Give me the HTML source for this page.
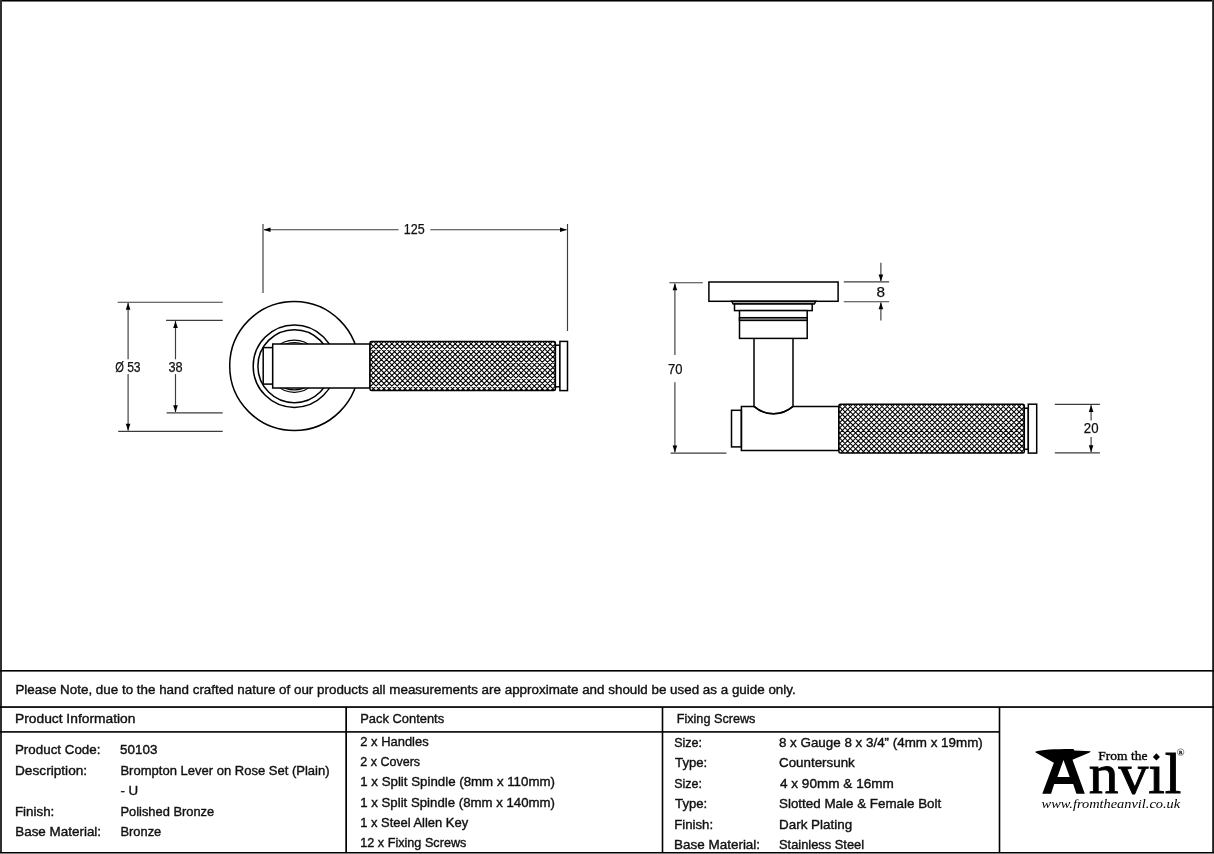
<!DOCTYPE html>
<html><head><meta charset="utf-8"><style>
html,body{margin:0;padding:0;background:#fff;width:1214px;height:854px;overflow:hidden}
svg{display:block}
text{font-family:"Liberation Sans",sans-serif;fill:#111;stroke:#111;stroke-width:0.4px}
svg{will-change:transform}
</style></head><body>
<svg width="1214" height="854" viewBox="0 0 1214 854">
<rect width="1214" height="854" fill="#fff"/>
<g stroke="#000" stroke-width="1.5" fill="none">
<circle cx="294.2" cy="366" r="64.5" fill="#fff"/>
<circle cx="294.4" cy="366.2" r="41.2"/>
<circle cx="294.4" cy="366.2" r="36.5"/>
<circle cx="294.3" cy="366.2" r="26.1" stroke-width="1.2"/>
<circle cx="294.3" cy="366.2" r="23.7" stroke-width="1.2"/>
<rect x="263.2" y="347.6" width="9.5" height="36.5" fill="#fff"/>
<rect x="272.7" y="344.0" width="97.3" height="44.0" fill="#fff"/>
<clipPath id="k1"><rect x="370" y="341.4" width="185.4" height="49.2" rx="1.5"/></clipPath>
<rect x="370" y="341.4" width="185.4" height="49.2" rx="1.5" fill="#fff" stroke="none"/>
<path clip-path="url(#k1)" d="M362.61,341.40L313.41,390.60M367.88,341.40L318.68,390.60M373.16,341.40L323.96,390.60M378.44,341.40L329.24,390.60M383.72,341.40L334.52,390.60M388.99,341.40L339.79,390.60M394.27,341.40L345.07,390.60M399.55,341.40L350.35,390.60M404.82,341.40L355.62,390.60M410.10,341.40L360.90,390.60M415.38,341.40L366.18,390.60M420.65,341.40L371.45,390.60M425.93,341.40L376.73,390.60M431.21,341.40L382.01,390.60M436.49,341.40L387.29,390.60M441.76,341.40L392.56,390.60M447.04,341.40L397.84,390.60M452.32,341.40L403.12,390.60M457.59,341.40L408.39,390.60M462.87,341.40L413.67,390.60M468.15,341.40L418.95,390.60M473.42,341.40L424.22,390.60M478.70,341.40L429.50,390.60M483.98,341.40L434.78,390.60M489.26,341.40L440.06,390.60M494.53,341.40L445.33,390.60M499.81,341.40L450.61,390.60M505.09,341.40L455.89,390.60M510.36,341.40L461.16,390.60M515.64,341.40L466.44,390.60M520.92,341.40L471.72,390.60M526.19,341.40L476.99,390.60M531.47,341.40L482.27,390.60M536.75,341.40L487.55,390.60M542.03,341.40L492.83,390.60M547.30,341.40L498.10,390.60M552.58,341.40L503.38,390.60M557.86,341.40L508.66,390.60M563.13,341.40L513.93,390.60M568.41,341.40L519.21,390.60M573.69,341.40L524.49,390.60M578.96,341.40L529.76,390.60M584.24,341.40L535.04,390.60M589.52,341.40L540.32,390.60M594.80,341.40L545.60,390.60M600.07,341.40L550.87,390.60M605.35,341.40L556.15,390.60M610.63,341.40L561.43,390.60M310.31,341.40L359.51,390.60M315.59,341.40L364.79,390.60M320.87,341.40L370.07,390.60M326.15,341.40L375.35,390.60M331.42,341.40L380.62,390.60M336.70,341.40L385.90,390.60M341.98,341.40L391.18,390.60M347.25,341.40L396.45,390.60M352.53,341.40L401.73,390.60M357.81,341.40L407.01,390.60M363.08,341.40L412.28,390.60M368.36,341.40L417.56,390.60M373.64,341.40L422.84,390.60M378.92,341.40L428.12,390.60M384.19,341.40L433.39,390.60M389.47,341.40L438.67,390.60M394.75,341.40L443.95,390.60M400.02,341.40L449.22,390.60M405.30,341.40L454.50,390.60M410.58,341.40L459.78,390.60M415.85,341.40L465.05,390.60M421.13,341.40L470.33,390.60M426.41,341.40L475.61,390.60M431.69,341.40L480.89,390.60M436.96,341.40L486.16,390.60M442.24,341.40L491.44,390.60M447.52,341.40L496.72,390.60M452.79,341.40L501.99,390.60M458.07,341.40L507.27,390.60M463.35,341.40L512.55,390.60M468.62,341.40L517.82,390.60M473.90,341.40L523.10,390.60M479.18,341.40L528.38,390.60M484.46,341.40L533.66,390.60M489.73,341.40L538.93,390.60M495.01,341.40L544.21,390.60M500.29,341.40L549.49,390.60M505.56,341.40L554.76,390.60M510.84,341.40L560.04,390.60M516.12,341.40L565.32,390.60M521.39,341.40L570.59,390.60M526.67,341.40L575.87,390.60M531.95,341.40L581.15,390.60M537.23,341.40L586.43,390.60M542.50,341.40L591.70,390.60M547.78,341.40L596.98,390.60M553.06,341.40L602.26,390.60M558.33,341.40L607.53,390.60M563.61,341.40L612.81,390.60" stroke="#000" stroke-width="1.1" fill="none"/>
<rect x="370" y="341.4" width="185.4" height="49.2" rx="1.5" fill="none"/>
<rect x="555.4" y="345.2" width="4.5" height="41.6" fill="#fff"/>
<rect x="559.9" y="341.4" width="7.6" height="49.2" fill="#fff"/>
<path d="M754,330 L754,406.4 A29.7,29.7 0 0 0 793,406.4 L793,330" fill="#fff"/>
<rect x="708.9" y="282" width="129.2" height="19.3" fill="#fff"/>
<path d="M731.7,301.3 L815.8,301.3 L814.3,304 L733.2,304 Z" fill="#aaa"/>
<rect x="734.5" y="304" width="77.7" height="6.6" fill="#fff"/>
<rect x="739.5" y="310.6" width="67.7" height="27.8" fill="#fff"/>
<rect x="739.5" y="317.7" width="67.7" height="2.7" fill="#aaa"/>
<rect x="731.5" y="410.3" width="9.9" height="36.6" fill="#fff"/>
<path d="M754,406.6 L741.4,406.6 L741.4,450.4 L838.9,450.4 L838.9,406.6 L793,406.6"/>
<path d="M754,406.4 A29.7,29.7 0 0 0 793,406.4"/>
<clipPath id="k2"><rect x="838.9" y="404.2" width="185.4" height="48.9" rx="1.5"/></clipPath>
<rect x="838.9" y="404.2" width="185.4" height="48.9" rx="1.5" fill="#fff" stroke="none"/>
<path clip-path="url(#k2)" d="M831.61,404.20L782.71,453.10M836.88,404.20L787.98,453.10M842.16,404.20L793.26,453.10M847.44,404.20L798.54,453.10M852.72,404.20L803.82,453.10M857.99,404.20L809.09,453.10M863.27,404.20L814.37,453.10M868.55,404.20L819.65,453.10M873.82,404.20L824.92,453.10M879.10,404.20L830.20,453.10M884.38,404.20L835.48,453.10M889.65,404.20L840.75,453.10M894.93,404.20L846.03,453.10M900.21,404.20L851.31,453.10M905.49,404.20L856.59,453.10M910.76,404.20L861.86,453.10M916.04,404.20L867.14,453.10M921.32,404.20L872.42,453.10M926.59,404.20L877.69,453.10M931.87,404.20L882.97,453.10M937.15,404.20L888.25,453.10M942.42,404.20L893.52,453.10M947.70,404.20L898.80,453.10M952.98,404.20L904.08,453.10M958.26,404.20L909.36,453.10M963.53,404.20L914.63,453.10M968.81,404.20L919.91,453.10M974.09,404.20L925.19,453.10M979.36,404.20L930.46,453.10M984.64,404.20L935.74,453.10M989.92,404.20L941.02,453.10M995.19,404.20L946.29,453.10M1000.47,404.20L951.57,453.10M1005.75,404.20L956.85,453.10M1011.03,404.20L962.13,453.10M1016.30,404.20L967.40,453.10M1021.58,404.20L972.68,453.10M1026.86,404.20L977.96,453.10M1032.13,404.20L983.23,453.10M1037.41,404.20L988.51,453.10M1042.69,404.20L993.79,453.10M1047.96,404.20L999.06,453.10M1053.24,404.20L1004.34,453.10M1058.52,404.20L1009.62,453.10M1063.80,404.20L1014.90,453.10M1069.07,404.20L1020.17,453.10M1074.35,404.20L1025.45,453.10M1079.63,404.20L1030.73,453.10M784.59,404.20L833.49,453.10M789.87,404.20L838.77,453.10M795.15,404.20L844.05,453.10M800.42,404.20L849.32,453.10M805.70,404.20L854.60,453.10M810.98,404.20L859.88,453.10M816.25,404.20L865.15,453.10M821.53,404.20L870.43,453.10M826.81,404.20L875.71,453.10M832.08,404.20L880.98,453.10M837.36,404.20L886.26,453.10M842.64,404.20L891.54,453.10M847.92,404.20L896.82,453.10M853.19,404.20L902.09,453.10M858.47,404.20L907.37,453.10M863.75,404.20L912.65,453.10M869.02,404.20L917.92,453.10M874.30,404.20L923.20,453.10M879.58,404.20L928.48,453.10M884.85,404.20L933.75,453.10M890.13,404.20L939.03,453.10M895.41,404.20L944.31,453.10M900.69,404.20L949.59,453.10M905.96,404.20L954.86,453.10M911.24,404.20L960.14,453.10M916.52,404.20L965.42,453.10M921.79,404.20L970.69,453.10M927.07,404.20L975.97,453.10M932.35,404.20L981.25,453.10M937.62,404.20L986.52,453.10M942.90,404.20L991.80,453.10M948.18,404.20L997.08,453.10M953.46,404.20L1002.36,453.10M958.73,404.20L1007.63,453.10M964.01,404.20L1012.91,453.10M969.29,404.20L1018.19,453.10M974.56,404.20L1023.46,453.10M979.84,404.20L1028.74,453.10M985.12,404.20L1034.02,453.10M990.39,404.20L1039.29,453.10M995.67,404.20L1044.57,453.10M1000.95,404.20L1049.85,453.10M1006.23,404.20L1055.13,453.10M1011.50,404.20L1060.40,453.10M1016.78,404.20L1065.68,453.10M1022.06,404.20L1070.96,453.10M1027.33,404.20L1076.23,453.10M1032.61,404.20L1081.51,453.10" stroke="#000" stroke-width="1.1" fill="none"/>
<rect x="838.9" y="404.2" width="185.4" height="48.9" rx="1.5" fill="none"/>
<rect x="1024.3" y="408.2" width="4" height="41.1" fill="#fff"/>
<rect x="1028.3" y="404.2" width="8.4" height="48.9" fill="#fff"/>
</g>
<g stroke="#3c3c3c" stroke-width="1.15" fill="none">
<line x1="263" y1="224" x2="263" y2="293"/>
<line x1="567.5" y1="224" x2="567.5" y2="331"/>
<line x1="264" y1="229.7" x2="398.6" y2="229.7"/>
<line x1="430.3" y1="229.7" x2="566.5" y2="229.7"/>
<line x1="117.7" y1="302.2" x2="222.7" y2="302.2"/>
<line x1="118.2" y1="431.4" x2="222.7" y2="431.4"/>
<line x1="128.1" y1="303" x2="128.1" y2="359.3"/>
<line x1="128.1" y1="374.1" x2="128.1" y2="430.6"/>
<line x1="166.1" y1="320.3" x2="222.7" y2="320.3"/>
<line x1="166.6" y1="412.8" x2="222.7" y2="412.8"/>
<line x1="175.5" y1="321" x2="175.5" y2="359.3"/>
<line x1="175.5" y1="374.1" x2="175.5" y2="412"/>
<line x1="669.3" y1="282.7" x2="702.8" y2="282.7"/>
<line x1="670.6" y1="453.1" x2="726.4" y2="453.1"/>
<line x1="674.9" y1="283.5" x2="674.9" y2="354.9"/>
<line x1="674.9" y1="382.3" x2="674.9" y2="452.3"/>
<line x1="843.8" y1="281.9" x2="889.1" y2="281.9"/>
<line x1="843.8" y1="301.7" x2="889.1" y2="301.7"/>
<line x1="880.9" y1="262.8" x2="880.9" y2="281"/>
<line x1="880.9" y1="302.5" x2="880.9" y2="320.6"/>
<line x1="1054.8" y1="404.4" x2="1099.9" y2="404.4"/>
<line x1="1054.8" y1="452.9" x2="1099.9" y2="452.9"/>
<line x1="1091.1" y1="405.2" x2="1091.1" y2="420.4"/>
<line x1="1091.1" y1="436.9" x2="1091.1" y2="452.1"/>
</g>
<polygon points="263.5,229.7 270.5,227.4 270.5,232.0" fill="#000"/>
<polygon points="567.0,229.7 560.0,227.4 560.0,232.0" fill="#000"/>
<polygon points="128.1,302.8 125.8,309.8 130.4,309.8" fill="#000"/>
<polygon points="128.1,430.8 125.8,423.8 130.4,423.8" fill="#000"/>
<polygon points="175.5,320.9 173.2,327.9 177.8,327.9" fill="#000"/>
<polygon points="175.5,412.2 173.2,405.2 177.8,405.2" fill="#000"/>
<polygon points="674.9,283.3 672.6,290.3 677.2,290.3" fill="#000"/>
<polygon points="674.9,452.5 672.6,445.5 677.2,445.5" fill="#000"/>
<polygon points="880.9,281.4 878.6,274.4 883.2,274.4" fill="#000"/>
<polygon points="880.9,302.2 878.6,309.2 883.2,309.2" fill="#000"/>
<polygon points="1091.1,405.0 1088.8,412.0 1093.4,412.0" fill="#000"/>
<polygon points="1091.1,452.3 1088.8,445.3 1093.4,445.3" fill="#000"/>
<g fill="#000">
<rect x="0" y="0" width="1214" height="1" fill="#000"/>
<rect x="0" y="1" width="1214" height="1" fill="#777"/>
<rect x="0" y="0" width="2" height="854" fill="#303030"/>
<rect x="1212" y="0" width="1" height="854" fill="#444"/>
<rect x="1213" y="0" width="1" height="854" fill="#1e1e1e"/>
<rect x="0" y="852" width="1214" height="1" fill="#000"/>
<rect x="0" y="853" width="1214" height="1" fill="#7b7b7b"/>
<rect x="0" y="670" width="1214" height="1.6"/>
<rect x="0" y="706.2" width="1214" height="1.7"/>
<rect x="0" y="731.1" width="1000" height="1.6"/>
<rect x="345.3" y="707" width="1.7" height="146"/>
<rect x="661.7" y="707" width="1.6" height="146"/>
<rect x="998.7" y="707" width="1.6" height="146"/>
</g>
<path fill-rule="evenodd" fill="#000" d="M1035.3,751.7 C1041,749.6 1057,748.9 1073.4,749.0 L1074.4,750.4 L1090.7,751.2 L1089.7,752.5 L1072.5,759.8 L1084.8,793.8 L1076.4,793.8 L1073.2,783.9 L1054.2,783.9 L1051.1,793.8 L1042.3,793.8 L1053.9,762.8 L1035.6,752.6 Z M1063.5,760 L1069.7,776.9 L1057.4,776.9 Z"/>
<text x="1098.3" y="759.9" font-family="Liberation Serif" font-size="13.5" textLength="49.1" lengthAdjust="spacingAndGlyphs" style="font-family:'Liberation Serif';fill:#000">From the</text>
<text x="1088.8" y="793.4" font-family="Liberation Serif" font-size="58" textLength="92.5" lengthAdjust="spacingAndGlyphs" style="font-family:'Liberation Serif';fill:#000;stroke:#000;stroke-width:0.9px">nvıl</text>
<rect x="1153.9" y="754.4" width="5" height="5" transform="rotate(45 1156.4 756.9)" fill="#000" stroke="none"/>
<circle cx="1180.6" cy="752.1" r="3.3" fill="none" stroke="#666" stroke-width="0.7"/>
<text x="1179" y="754.2" font-family="Liberation Serif" font-size="5" style="font-family:'Liberation Serif';fill:#666">R</text>
<text x="1041.6" y="807.9" font-family="Liberation Serif" font-style="italic" font-size="12" textLength="138.6" lengthAdjust="spacingAndGlyphs" style="font-family:'Liberation Serif';font-style:italic;fill:#000;stroke:none">www.fromtheanvil.co.uk</text>
<text x="15.41" y="694.00" font-size="13.6" textLength="780.28" lengthAdjust="spacingAndGlyphs">Please Note, due to the hand crafted nature of our products all measurements are approximate and should be used as a guide only.</text>
<text x="14.98" y="723.00" font-size="13.6" textLength="120.47" lengthAdjust="spacingAndGlyphs">Product Information</text>
<text x="360.25" y="723.00" font-size="13.6" textLength="83.83" lengthAdjust="spacingAndGlyphs">Pack Contents</text>
<text x="676.67" y="723.00" font-size="13.6" textLength="78.80" lengthAdjust="spacingAndGlyphs">Fixing Screws</text>
<text x="14.92" y="754.00" font-size="13.6" textLength="85.58" lengthAdjust="spacingAndGlyphs">Product Code:</text>
<text x="120.11" y="754.00" font-size="13.6" textLength="37.29" lengthAdjust="spacingAndGlyphs">50103</text>
<text x="14.99" y="775.00" font-size="13.6" textLength="72.19" lengthAdjust="spacingAndGlyphs">Description:</text>
<text x="120.44" y="775.00" font-size="13.6" textLength="209.12" lengthAdjust="spacingAndGlyphs">Brompton Lever on Rose Set (Plain)</text>
<text x="120.42" y="795.00" font-size="13.6" textLength="17.79" lengthAdjust="spacingAndGlyphs">- U</text>
<text x="14.92" y="816.00" font-size="13.6" textLength="39.41" lengthAdjust="spacingAndGlyphs">Finish:</text>
<text x="120.45" y="816.00" font-size="13.6" textLength="93.75" lengthAdjust="spacingAndGlyphs">Polished Bronze</text>
<text x="15.21" y="836.00" font-size="13.6" textLength="85.87" lengthAdjust="spacingAndGlyphs">Base Material:</text>
<text x="120.45" y="836.00" font-size="13.6" textLength="40.82" lengthAdjust="spacingAndGlyphs">Bronze</text>
<text x="360.25" y="746.00" font-size="13.6" textLength="68.41" lengthAdjust="spacingAndGlyphs">2 x Handles</text>
<text x="360.28" y="766.00" font-size="13.6" textLength="59.79" lengthAdjust="spacingAndGlyphs">2 x Covers</text>
<text x="360.22" y="786.00" font-size="13.6" textLength="194.76" lengthAdjust="spacingAndGlyphs">1 x Split Spindle (8mm x 110mm)</text>
<text x="360.23" y="807.00" font-size="13.6" textLength="194.77" lengthAdjust="spacingAndGlyphs">1 x Split Spindle (8mm x 140mm)</text>
<text x="360.25" y="827.00" font-size="13.6" textLength="107.89" lengthAdjust="spacingAndGlyphs">1 x Steel Allen Key</text>
<text x="360.27" y="847.00" font-size="13.6" textLength="106.10" lengthAdjust="spacingAndGlyphs">12 x Fixing Screws</text>
<text x="674.18" y="747.00" font-size="13.6" textLength="27.75" lengthAdjust="spacingAndGlyphs">Size:</text>
<text x="675.10" y="767.00" font-size="13.6" textLength="32.11" lengthAdjust="spacingAndGlyphs">Type:</text>
<text x="674.18" y="788.00" font-size="13.6" textLength="27.75" lengthAdjust="spacingAndGlyphs">Size:</text>
<text x="675.10" y="808.00" font-size="13.6" textLength="32.11" lengthAdjust="spacingAndGlyphs">Type:</text>
<text x="674.13" y="829.00" font-size="13.6" textLength="38.99" lengthAdjust="spacingAndGlyphs">Finish:</text>
<text x="674.11" y="849.00" font-size="13.6" textLength="85.97" lengthAdjust="spacingAndGlyphs">Base Material:</text>
<text x="778.92" y="747.00" font-size="13.6" textLength="203.87" lengthAdjust="spacingAndGlyphs">8 x Gauge 8 x 3/4” (4mm x 19mm)</text>
<text x="779.02" y="767.00" font-size="13.6" textLength="75.76" lengthAdjust="spacingAndGlyphs">Countersunk</text>
<text x="780.00" y="788.00" font-size="13.6" textLength="113.88" lengthAdjust="spacingAndGlyphs">4 x 90mm &amp; 16mm</text>
<text x="779.02" y="808.00" font-size="13.6" textLength="162.21" lengthAdjust="spacingAndGlyphs">Slotted Male &amp; Female Bolt</text>
<text x="779.01" y="829.00" font-size="13.6" textLength="73.12" lengthAdjust="spacingAndGlyphs">Dark Plating</text>
<text x="779.05" y="849.00" font-size="13.6" textLength="85.02" lengthAdjust="spacingAndGlyphs">Stainless Steel</text>
<text x="403.80" y="234.00" font-size="13.9" textLength="20.87" lengthAdjust="spacingAndGlyphs" style="stroke-width:0.25px">125</text>
<text x="115.20" y="372.00" font-size="13.9" textLength="8.65" lengthAdjust="spacingAndGlyphs" style="stroke-width:0.25px">Ø</text>
<text x="127.13" y="372.00" font-size="13.9" textLength="13.47" lengthAdjust="spacingAndGlyphs" style="stroke-width:0.25px">53</text>
<text x="168.39" y="372.00" font-size="13.9" textLength="14.13" lengthAdjust="spacingAndGlyphs" style="stroke-width:0.25px">38</text>
<text x="667.96" y="374.00" font-size="13.9" textLength="14.46" lengthAdjust="spacingAndGlyphs" style="stroke-width:0.25px">70</text>
<text x="876.50" y="297.00" font-size="13.9" textLength="8.51" lengthAdjust="spacingAndGlyphs" style="stroke-width:0.25px">8</text>
<text x="1083.85" y="433.00" font-size="13.9" textLength="14.68" lengthAdjust="spacingAndGlyphs" style="stroke-width:0.25px">20</text>
</svg>
</body></html>
